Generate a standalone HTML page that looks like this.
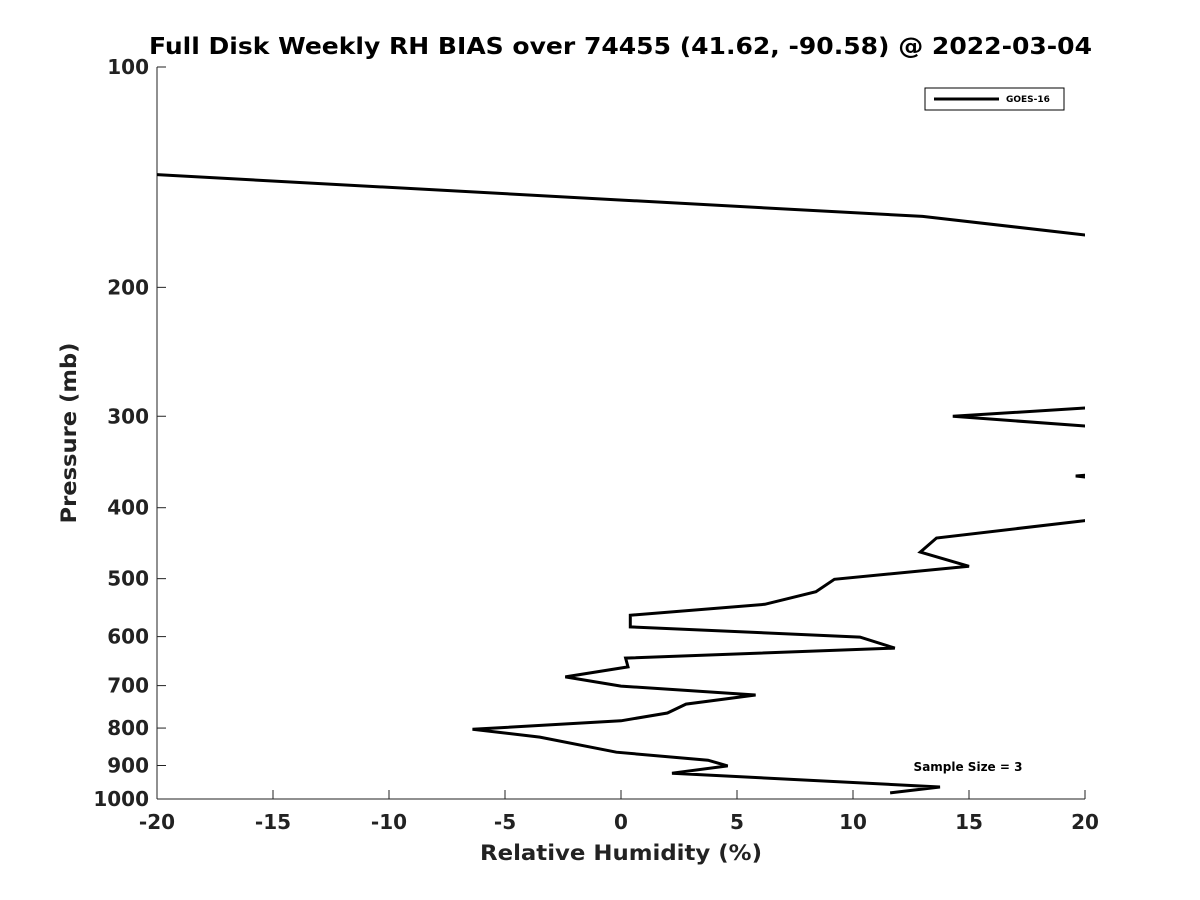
<!DOCTYPE html>
<html><head><meta charset="utf-8"><style>body{margin:0;background:#fff}svg{display:block;font-family:"DejaVu Sans","Liberation Sans",sans-serif}</style></head>
<body>
<svg id="chart" width="1200" height="900" viewBox="0 0 1200 900">
<rect width="1200" height="900" fill="#fff"/>
<text x="149" y="54" textLength="943" lengthAdjust="spacingAndGlyphs" font-size="23" font-weight="bold" fill="#000">Full Disk Weekly RH BIAS over 74455 (41.62, -90.58) @ 2022-03-04</text>
<defs><clipPath id="plotclip"><rect x="157" y="67" width="928" height="732"/></clipPath></defs>
<g id="axes"></g>
<g id="series" clip-path="url(#plotclip)"></g>
<g>
<rect x="925" y="88" width="139" height="22" fill="#fff" stroke="#000" stroke-width="1"/>
<line x1="934" y1="99" x2="999" y2="99" stroke="#000" stroke-width="3"/>
<text x="1006" y="102" font-size="9" font-weight="bold">GOES-16</text>
</g>
<text x="968" y="771" text-anchor="middle" font-size="12" font-weight="bold">Sample Size = 3</text>
<text x="621" y="860" text-anchor="middle" textLength="282" lengthAdjust="spacingAndGlyphs" font-size="21" font-weight="bold" fill="#222">Relative Humidity (%)</text>
<text transform="translate(76,433) rotate(-90)" text-anchor="middle" textLength="181" lengthAdjust="spacingAndGlyphs" font-size="21" font-weight="bold" fill="#222">Pressure (mb)</text>
</svg>
<script>
const xTicks=[-20,-15,-10,-5,0,5,10,15,20];
const yTicks=[100,200,300,400,500,600,700,800,900,1000];
const rhBias=[-20.5,0.04,13.0,21,null,21,14.3,21,null,21,19.6,21,null,21,13.6,12.9,15.0,9.2,8.4,6.2,0.4,0.4,10.3,11.8,0.2,0.3,-2.4,0,5.8,2.8,2.0,0,-6.4,-3.5,-0.2,3.75,4.6,2.2,13.75,11.6];
const pressure=[140,152,160,171,null,291,300,311,null,359,362,366,null,413,440,460,481,501,521,542,561,582,601,622,642,660,681,701,721,742,763,782,803,823,863,885,901,922,963,981];
const NS="http://www.w3.org/2000/svg";
const L=157,R=1085,T=67,B=799;
function xs(v){return L+(v+20)/40*(R-L);}
function ys(p){return T+Math.log10(p/100)*(B-T);}
function mk(tag,attrs,parent){const e=document.createElementNS(NS,tag);for(const k in attrs)e.setAttribute(k,attrs[k]);parent.appendChild(e);return e;}
const ax=document.getElementById('axes');
let e=mk('line',{x1:L,y1:T,x2:L,y2:B,stroke:'#222','stroke-width':1},ax);


e=mk('line',{x1:L,y1:B,x2:R,y2:B,stroke:'#222','stroke-width':1},ax);


xTicks.forEach(v=>{const x=xs(v);
 let t=mk('line',{x1:x,y1:B,x2:x,y2:B-9,stroke:'#222','stroke-width':1},ax);
 
 
 let l=mk('text',{x:x,y:B+30,'text-anchor':'middle','font-size':20,'font-weight':'bold',fill:'#222'},ax);l.textContent=v;
 
 });
yTicks.forEach(v=>{const y=ys(v);
 let t=mk('line',{x1:L,y1:y,x2:L+9,y2:y,stroke:'#222','stroke-width':1},ax);
 
 
 let l=mk('text',{x:L-8,y:y+7,'text-anchor':'end','font-size':20,'font-weight':'bold',fill:'#222'},ax);l.textContent=v;
 
 });
let d='',pen=false;
for(let i=0;i<rhBias.length;i++){
 if(rhBias[i]===null||pressure[i]===null){pen=false;continue;}
 d+=(pen?'L':'M')+xs(rhBias[i]).toFixed(1)+' '+ys(pressure[i]).toFixed(1)+' ';pen=true;}
const path=mk('path',{d:d,fill:'none',stroke:'#000','stroke-width':3,'stroke-linejoin':'miter'},document.getElementById('series'));


</script>
</body></html>
